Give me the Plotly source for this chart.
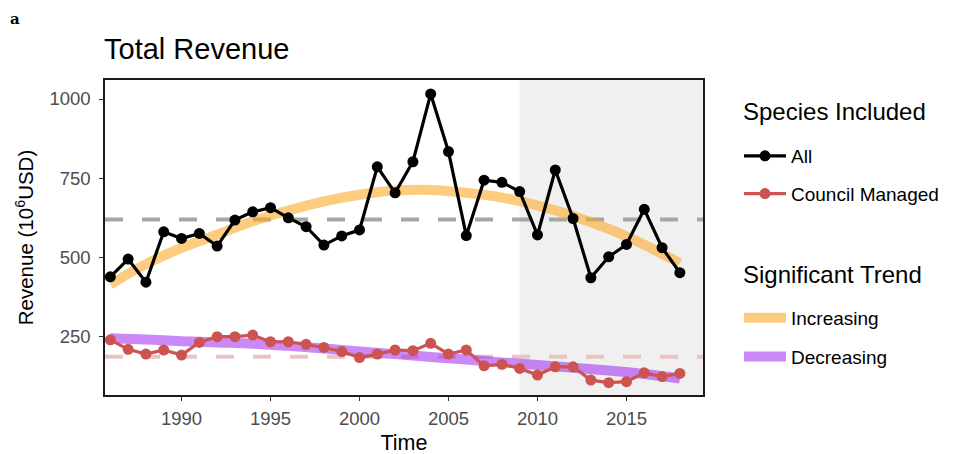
import plotly.graph_objects as go

years = list(range(1986, 2019))
all_species = [439, 495, 422, 581, 560, 576, 536, 618, 644, 657, 625, 597, 539, 568, 587,
               786, 704, 802, 1016, 834, 569, 744, 737, 708, 571, 776, 623, 436, 502, 541,
               652, 531, 452]
council_managed = [240, 210, 195, 208, 192, 232, 250, 250, 255, 234, 234, 226, 216, 203, 184,
                   195, 208, 206, 229, 195, 208, 158, 163, 150, 129, 155, 155, 113, 105, 108,
                   136, 124, 134]

trend_years = [1986, 1988, 1990, 1992, 1994, 1996, 1998, 2000, 2002, 2004, 2006, 2008, 2010,
               2012, 2014, 2016, 2018]
trend_increasing = [415, 479, 530, 572, 614, 648, 677, 698, 711, 713, 704, 689, 664, 631, 590,
                    540, 482]
trend_decreasing = [245, 241, 236, 232, 228, 221, 213, 203, 195, 186, 178, 169, 161, 152, 143,
                    132, 118]

all_mean = 620
council_mean = 187
shade_start = 2009

x_range = [1985.7, 2019.3]
y_range = [66, 1060]
x_ticks = [1990, 1995, 2000, 2005, 2010, 2015]
y_ticks = [250, 500, 750, 1000]

FONT = "Liberation Sans, Arial, sans-serif"
BLACK = "#000000"
RED = "#CC5450"

# the page places the figure 8px from the top-left corner; positions compensate for that.
W, H = 954, 454
L, T, PW, PH = 97, 72, 598, 315

def px_x(x):
    return (x - L) / PW

def px_y(y):
    return (T + PH - y) / PH

fig = go.Figure()

fig.add_trace(go.Scatter(
    x=trend_years, y=trend_increasing, mode="lines", name="Increasing",
    line=dict(color="rgba(253,170,40,0.6)", width=10, shape="spline"),
    legend="legend2", legendgroup="inc", hoverinfo="skip"))
fig.add_trace(go.Scatter(
    x=trend_years, y=trend_decreasing, mode="lines", name="Decreasing",
    line=dict(color="rgba(160,40,240,0.55)", width=10, shape="spline"),
    legend="legend2", legendgroup="dec", hoverinfo="skip"))

fig.add_trace(go.Scatter(
    x=years, y=all_species, mode="lines+markers", name="All",
    line=dict(color=BLACK, width=3.2), marker=dict(color=BLACK, size=11),
    legend="legend", legendgroup="all"))
fig.add_trace(go.Scatter(
    x=years, y=council_managed, mode="lines+markers", name="Council Managed",
    line=dict(color=RED, width=3.2), marker=dict(color=RED, size=11),
    legend="legend", legendgroup="cm"))

fig.add_shape(type="rect", xref="x", yref="paper", x0=shade_start, x1=x_range[1],
              y0=0, y1=1, fillcolor="#F0F0F0", line=dict(width=0), layer="below")
fig.add_shape(type="line", xref="paper", yref="y", x0=0, x1=1, y0=all_mean, y1=all_mean,
              line=dict(color="#A6A6A6", width=4, dash="18px,19px"), layer="below")
fig.add_shape(type="line", xref="paper", yref="y", x0=0, x1=1, y0=council_mean, y1=council_mean,
              line=dict(color="#EBC3C3", width=4, dash="18px,19px"), layer="below")

axis_common = dict(
    showgrid=False, zeroline=False, showline=True, linecolor="#1A1A1A", linewidth=1.5,
    mirror=True, ticks="outside", ticklen=4, tickwidth=1.2, tickcolor="#333333",
    tickfont=dict(family=FONT, size=18.5, color="#4D4D4D"),
)

legend_common = dict(font=dict(family=FONT, size=19, color="#000000"), xanchor="left",
                     yanchor="top", traceorder="grouped", bgcolor="rgba(0,0,0,0)",
                     itemwidth=42, xref="container", yref="container", x=731 / W)

fig.update_layout(
    width=W, height=H,
    margin=dict(l=L, r=W - L - PW, t=T, b=H - T - PH, autoexpand=False),
    plot_bgcolor="white", paper_bgcolor="white",
    font=dict(family=FONT, color="#000000"),
    title=dict(text="Total Revenue", x=96/W, xref="container", xanchor="left",
               y=1 - 41/H, yref="container", yanchor="middle",
               font=dict(family=FONT, size=29, color="#000000")),
    xaxis=dict(range=x_range, tickvals=x_ticks, ticklabelstandoff=2,
               title=dict(text="Time", font=dict(family=FONT, size=21.5), standoff=7),
               **axis_common),
    yaxis=dict(range=y_range, tickvals=y_ticks, ticklabelstandoff=5,
               title=dict(text="Revenue (10<sup>6</sup>USD)", font=dict(family=FONT, size=20.5),
                          standoff=10),
               **axis_common),
    legend=dict(y=1 - 129 / H, tracegroupgap=10, **legend_common),
    legend2=dict(y=1 - 291 / H, tracegroupgap=11, **legend_common),
    showlegend=True,
)

fig.add_annotation(text="Species Included", xref="paper", yref="paper", x=px_x(733), y=px_y(103),
                   xanchor="left", yanchor="middle", showarrow=False,
                   font=dict(family=FONT, size=24, color="#000000"))
fig.add_annotation(text="Significant Trend", xref="paper", yref="paper", x=px_x(733), y=px_y(266),
                   xanchor="left", yanchor="middle", showarrow=False,
                   font=dict(family=FONT, size=24, color="#000000"))

fig.add_annotation(text="<b>a</b>", xref="paper", yref="paper", x=px_x(0), y=px_y(0),
                   xanchor="left", yanchor="top", showarrow=False,
                   font=dict(family="DejaVu Serif", size=15, color="#000000"))

fig.write_html("out.html")
